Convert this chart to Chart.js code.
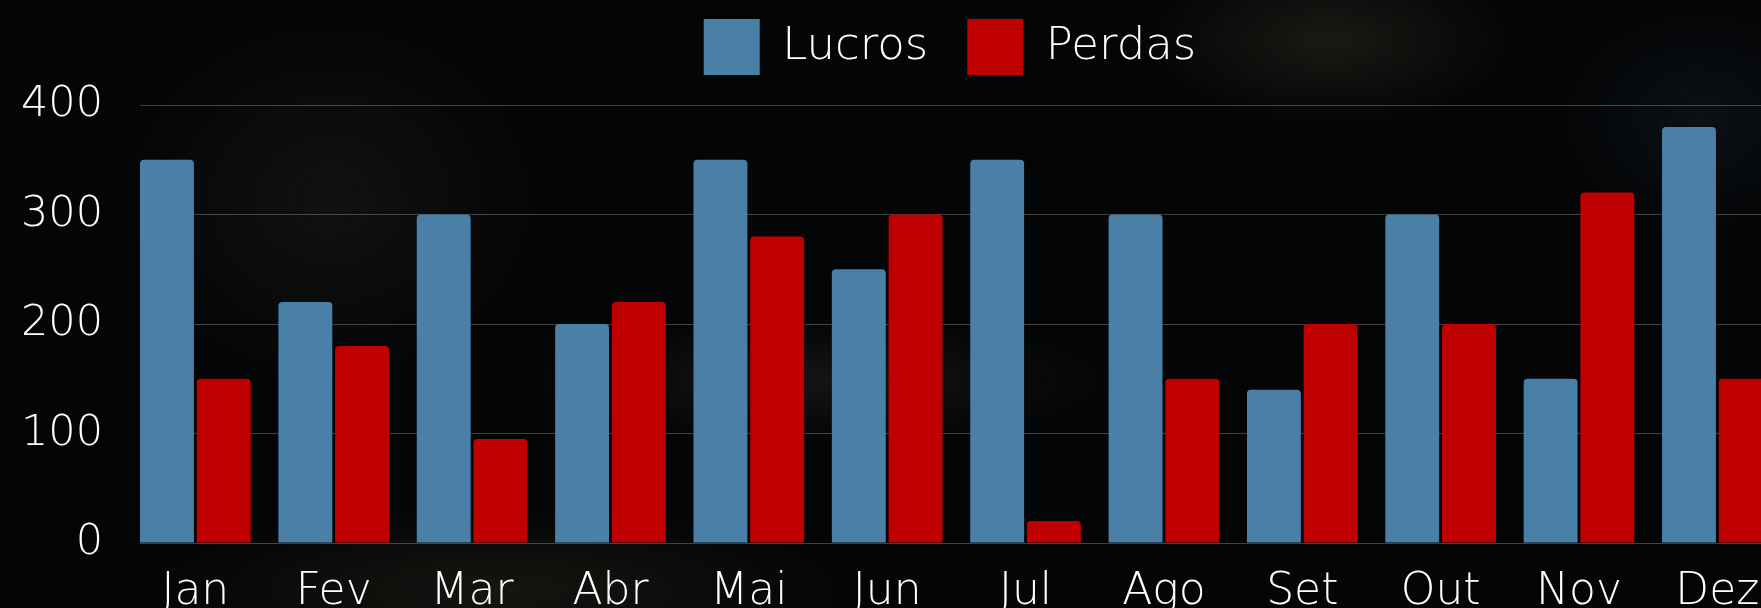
<!DOCTYPE html>
<html>
<head>
<meta charset="utf-8">
<script src="https://cdn.jsdelivr.net/npm/chart.js@4/dist/chart.umd.min.js"></script>
<style>
	html, body { margin: 0; padding: 0; overflow: hidden; }
	body {
		width: 1761px; height: 608px;
		background:
			radial-gradient(ellipse 260px 120px at 1330px 40px, rgba(48, 46, 36, 0.5), transparent 70%),
			radial-gradient(ellipse 420px 90px at 820px 380px, rgba(40, 39, 34, 0.45), transparent 70%),
			radial-gradient(ellipse 300px 260px at 330px 200px, rgba(26, 26, 26, 0.6), transparent 70%),
			radial-gradient(ellipse 500px 120px at 500px 590px, rgba(30, 28, 22, 0.7), transparent 70%),
			radial-gradient(ellipse 200px 160px at 1700px 120px, rgba(20, 28, 40, 0.5), transparent 70%),
			#040506;
	}
	#wrap { position: absolute; left: 0; top: 0; width: 1900px; height: 640px; }
</style>
</head>
<body>
<div id="wrap"><canvas id="chart"></canvas></div>
<script>
// data
const months = ['Jan', 'Fev', 'Mar', 'Abr', 'Mai', 'Jun', 'Jul', 'Ago', 'Set', 'Out', 'Nov', 'Dez'];
const lucros = [350, 220, 300, 200, 350, 250, 350, 300, 140, 300, 150, 380];
const perdas = [150, 180, 95, 220, 280, 300, 20, 150, 200, 200, 320, 150];
const yTicks = [0, 100, 200, 300, 400];

const fontFamily = "'DejaVu Sans', 'Open Sans', sans-serif";
const fg = '#ffffff';
const gridColor = 'rgba(140, 140, 140, 0.45)';

// linear x so the first group sits flush against the left of the plot,
// as it does in the reference
const points = values => values.map((y, i) => ({ x: i, y }));

// legend has no afterFit option in v4 - pad its box to push the plot down
const legendGap = {
	id: 'legendGap',
	beforeInit(chart) {
		const fit = chart.legend.fit;
		chart.legend.fit = function () {
			fit.call(this);
			this.height += 20;
		};
	},
};

new Chart(document.getElementById('chart'), {
	type: 'bar',
	data: {
		datasets: [
			{ label: 'Lucros', data: points(lucros), backgroundColor: '#4a7fa8', borderRadius: { topLeft: 4, topRight: 4 }, borderSkipped: 'start' },
			{ label: 'Perdas', data: points(perdas), backgroundColor: '#c00000', borderRadius: { topLeft: 4, topRight: 4 }, borderSkipped: 'start' },
		],
	},
	plugins: [legendGap],
	options: {
		responsive: true,
		maintainAspectRatio: false,
		animation: false,
		categoryPercentage: 0.82,
		barPercentage: 0.95,
		layout: { padding: { top: -20, left: 0, right: 0, bottom: 0 } },
		scales: {
			x: {
				type: 'linear',
				offset: false,
				min: -0.4,
				max: 12.32,
				afterFit: s => { s.height = 97; },
				grid: { display: false, drawTicks: false, offset: false },
				border: { display: false },
				ticks: {
					stepSize: 1,
					includeBounds: false,
					autoSkip: false,
					maxRotation: 0,
					padding: 23,
					color: fg,
					font: { family: fontFamily, size: 44, weight: 300 },
					callback: v => months[v] ?? '',
				},
			},
			y: {
				min: 0,
				max: 400,
				afterFit: s => { s.width = 140; },
				afterBuildTicks: s => { s.ticks = yTicks.map(value => ({ value })); },
				grid: { color: gridColor, lineWidth: 1, drawTicks: false },
				border: { display: false },
				ticks: {
					padding: 37,
					color: fg,
					font: { family: fontFamily, size: 43, weight: 300 },
				},
			},
		},
		plugins: {
			legend: {
				labels: {
					color: fg,
					boxWidth: 56,
					boxHeight: 56,
					padding: 39,
					font: { family: fontFamily, size: 45, weight: 300 },
				},
			},
			tooltip: { enabled: false },
		},
	},
});
</script>
</body>
</html>
